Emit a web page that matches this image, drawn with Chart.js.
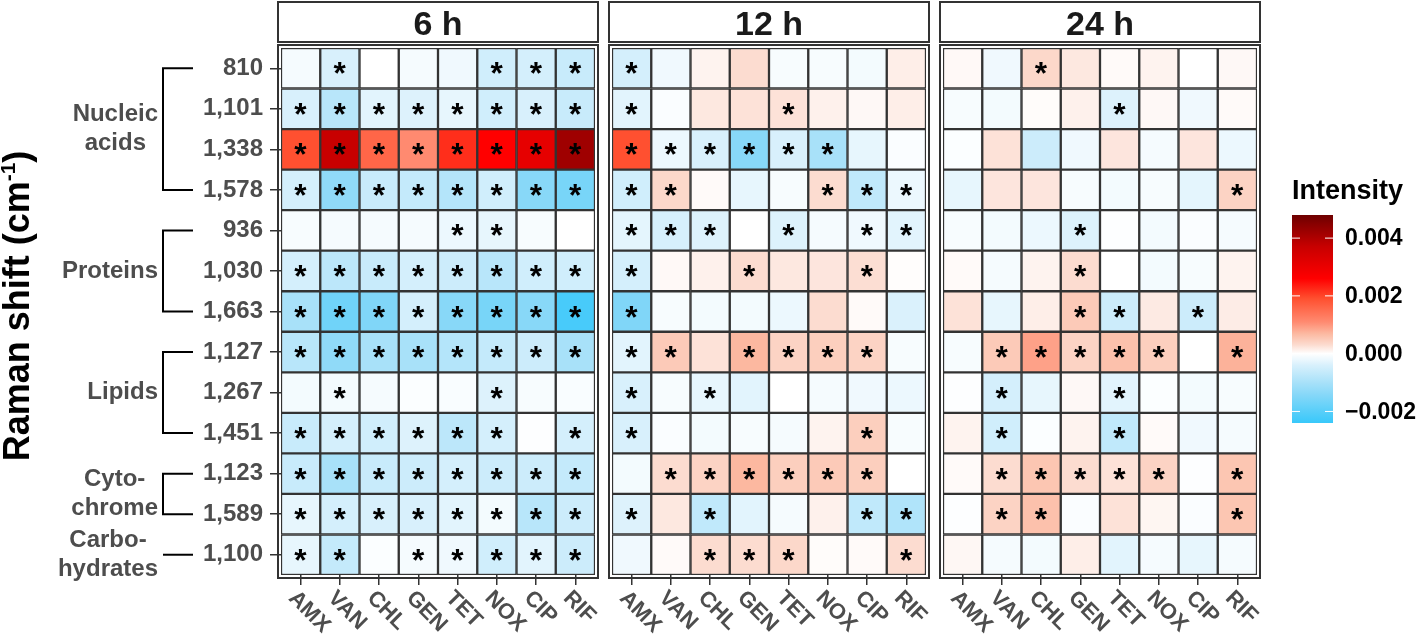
<!DOCTYPE html>
<html><head><meta charset="utf-8">
<script src="https://cdn.jsdelivr.net/npm/chart.js@4.4.1/dist/chart.umd.min.js"></script>
<style>
html,body{margin:0;padding:0;background:#fff;width:1417px;height:636px;overflow:hidden}
#wrap{position:absolute;left:0;top:0;width:1417px;height:636px}
canvas{position:absolute;left:0;top:0}
</style></head><body>
<div id="wrap">
<canvas id="c1" width="1417" height="636"></canvas>
<canvas id="c2" width="1417" height="636"></canvas>
<canvas id="c3" width="1417" height="636"></canvas>
</div>
<script>
// ---------------- DATA ----------------
const ramanShifts = ['810','1,101','1,338','1,578','936','1,030','1,663','1,127','1,267','1,451','1,123','1,589','1,100'];
const antibiotics = ['AMX','VAN','CHL','GEN','TET','NOX','CIP','RIF'];
const timePoints = ['6 h','12 h','24 h'];
const bandGroups = [
  {lines:['Nucleic','acids'], from:0, to:3},
  {lines:['Proteins'], from:4, to:6},
  {lines:['Lipids'], from:7, to:9},
  {lines:['Cyto-','chrome'], from:10, to:11},
  {lines:['Carbo-','hydrates'], from:12, to:12}
];
const legendTicks = [0.004, 0.002, 0.000, -0.002];
const legendTickLabels = ['0.004', '0.002', '0.000', '\u22120.002'];

const intensity6h = [
  [-0.0001, -0.0004, 0.0000, -0.0001, -0.00015, -0.0005, -0.00045, -0.0006],
  [-0.0004, -0.0008, -0.0003, -0.00035, -0.00025, -0.0005, -0.0004, -0.0006],
  [0.0019, 0.0037, 0.0016, 0.0011, 0.0022, 0.0026, 0.0031, 0.0042],
  [-0.00045, -0.0013, -0.0006, -0.00065, -0.00085, -0.0005, -0.0014, -0.0016],
  [-0.00008, -0.0001, -0.0001, -0.0001, -0.0002, -0.00025, -0.00008, 0.0000],
  [-0.00045, -0.00075, -0.0006, -0.00045, -0.00055, -0.0008, -0.0005, -0.0005],
  [-0.001, -0.0017, -0.0015, -0.00045, -0.0014, -0.0016, -0.0014, -0.0022],
  [-0.0008, -0.0013, -0.001, -0.001, -0.00085, -0.00065, -0.00055, -0.001],
  [-0.00012, -0.00012, -0.0001, -0.00004, -0.00006, -0.00035, -0.00008, -0.00006],
  [-0.0006, -0.00045, -0.0005, -0.00035, -0.00075, -0.00045, -0.00002, -0.00045],
  [-0.0006, -0.001, -0.0006, -0.00055, -0.00045, -0.00055, -0.00055, -0.00065],
  [-0.00025, -0.00045, -0.0004, -0.0004, -0.0003, -0.00012, -0.0008, -0.00055],
  [-0.00025, -0.00065, -0.00004, -0.0001, -0.00015, -0.0005, -0.0003, -0.00055]
];
const intensity12h = [
  [-0.00045, -0.00015, 0.0001, 0.0003, -0.00008, -0.00008, -0.00012, 0.00015],
  [-0.0003, -0.00005, 0.0002, 0.00025, 0.00025, 0.00012, 0.00006, 0.00015],
  [0.0019, -0.0002, -0.0004, -0.0014, -0.0004, -0.001, -0.00025, -0.00005],
  [-0.0005, 0.00035, 0.00004, -0.00025, -0.00008, 0.0003, -0.0007, -0.0002],
  [-0.00028, -0.00042, -0.00035, 0.0000, -0.00035, -0.0001, -0.00015, -0.0003],
  [-0.00045, 0.00005, 0.00012, 0.0003, 0.0002, 0.00022, 0.00028, 0.00002],
  [-0.0015, -0.00008, -0.00012, -0.00012, -0.0002, 0.0003, 0.00004, -0.00038],
  [-0.0003, 0.0005, 0.00025, 0.0007, 0.0004, 0.00045, 0.0004, -0.00008],
  [-0.0004, -0.00008, -0.00025, -0.0003, 0.0000, -0.0001, -0.00015, -0.0002],
  [-0.0004, -0.00005, -0.00012, -0.00008, -0.0001, 0.0001, 0.00045, -0.00008],
  [-0.00012, 0.0003, 0.0004, 0.0007, 0.00045, 0.0005, 0.00045, 0.0000],
  [-0.00035, 0.0002, -0.0007, -0.0003, -0.0001, 0.00012, -0.0007, -0.0009],
  [-0.00015, 0.00004, 0.0003, 0.0003, 0.00035, 0.00003, 0.00004, 0.0003]
];
const intensity24h = [
  [0.00005, -0.00015, 0.00035, 0.0002, 0.00004, 0.0001, 0.0000, 0.00006],
  [-0.00008, -0.00012, 0.00003, 0.00012, -0.00035, 0.00006, -0.00015, 0.00004],
  [-0.00004, 0.00025, -0.00055, -0.00015, 0.00022, -0.0001, 0.00022, -0.0002],
  [-0.00025, 0.00022, 0.00022, -0.00008, -0.00012, -0.00008, -0.00028, 0.0004],
  [-0.00008, -0.00012, -0.0002, -0.00035, -0.00002, -0.00012, -0.00005, -0.0001],
  [0.00004, -0.0001, 0.0001, 0.0003, 0.0000, -0.00012, -0.00008, 0.0001],
  [0.00025, -0.00025, 0.00015, 0.0005, -0.00055, 0.00018, -0.00055, 0.00016],
  [-0.00008, 0.0005, 0.0009, 0.0004, 0.0006, 0.00045, 0.0000, 0.00075],
  [-0.00002, -0.00045, -0.00025, 0.00006, -0.0003, -0.00004, -0.00012, -0.00008],
  [0.0001, -0.0005, -0.00004, 0.0001, -0.0007, 0.00004, -0.00015, -0.0001],
  [0.00004, 0.0003, 0.00055, 0.0003, 0.00025, 0.0004, -0.00002, 0.00055],
  [-0.00002, 0.0004, 0.0006, -0.00005, 0.00025, 0.00008, -0.00005, 0.00055],
  [0.00007, -0.0001, -0.00012, 0.00015, -0.0003, -0.0001, -0.00025, -0.0001]
];
// significance flags ("1" = asterisk), one string per Raman band, columns = antibiotics
const signif6h = ['01000111','11111111','11111111','11111111','00001100','11111111','11111111','11111111','01000100','11111101','11111111','11111111','11011111'];
const signif12h = ['10000000','10001000','11111100','11000111','11101011','10010010','10000000','11011110','10100000','10000010','01111110','10100011','00111001'];
const signif24h = ['00100000','00001000','00000000','00000001','00010000','00010000','00011010','01111101','01001000','01001000','01111101','01100001','00000000'];

// ---------------- STYLE ----------------
const FONT = '"Liberation Sans", Arial, Helvetica, sans-serif';
const colorStops = [
  [-0.0024, [56,200,250]],
  [-0.0014, [136,216,248]],
  [-0.0008, [184,230,250]],
  [-0.0004, [216,240,252]],
  [0.0000, [255,255,255]],
  [0.0003, [252,220,208]],
  [0.0007, [252,184,160]],
  [0.0011, [255,138,112]],
  [0.0019, [255,80,48]],
  [0.0026, [255,0,0]],
  [0.0037, [200,0,0]],
  [0.0048, [110,0,0]]
];
const scaleMin = -0.0024, scaleMax = 0.0048;
function cellColor(v){
  const s = colorStops;
  if (v <= s[0][0]) return 'rgb(' + s[0][1].join(',') + ')';
  for (let i = 1; i < s.length; i++){
    if (v <= s[i][0]){
      const t = (v - s[i-1][0]) / (s[i][0] - s[i-1][0]);
      const c = s[i-1][1].map((a, k) => Math.round(a + (s[i][1][k] - a) * t));
      return 'rgb(' + c.join(',') + ')';
    }
  }
  return 'rgb(' + s[s.length-1][1].join(',') + ')';
}

const panelLeft = [281, 612, 943];
const panelRight = [595, 926, 1257];

const decor = {
  id: 'decor',
  afterDatasetsDraw(chart){
    const ctx = chart.ctx;
    ctx.save();
    ctx.font = 'bold 100px ' + FONT;
    let m = ctx.measureText('*');
    const size = 100 * 12 / (m.actualBoundingBoxAscent + m.actualBoundingBoxDescent);
    ctx.font = 'bold ' + size.toFixed(1) + 'px ' + FONT;
    m = ctx.measureText('*');
    const dy = (m.actualBoundingBoxAscent - m.actualBoundingBoxDescent) / 2;
    const dx = (m.actualBoundingBoxRight - m.actualBoundingBoxLeft) / 2;
    ctx.fillStyle = '#000';
    ctx.textAlign = 'left';
    ctx.textBaseline = 'alphabetic';
    chart.data.datasets.forEach((ds, r) => {
      const meta = chart.getDatasetMeta(r);
      meta.data.forEach((bar, c) => {
        if (ds.signif[c] === '1'){
          const cy = (bar.y + bar.base) / 2;
          ctx.fillText('*', bar.x - dx, cy + dy);
        }
      });
    });
    ctx.restore();
  },
  afterDraw(chart, args, opts){
    const ctx = chart.ctx;
    const a = chart.chartArea;
    const p = opts.panel;
    ctx.save();
    // panel frame
    ctx.strokeStyle = '#333';
    ctx.lineWidth = 2;
    ctx.strokeRect(a.left - 3, a.top - 3, a.width + 6, a.height + 6);
    // strip
    ctx.fillStyle = '#fff';
    ctx.fillRect(a.left - 3, 2, a.width + 6, 40);
    ctx.strokeRect(a.left - 3, 2, a.width + 6, 40);
    ctx.fillStyle = '#1a1a1a';
    ctx.font = 'bold 34px ' + FONT;
    ctx.textAlign = 'center';
    ctx.textBaseline = 'alphabetic';
    ctx.fillText(timePoints[p], (a.left + a.right) / 2, 35);
    // rotated x labels
    const xs = chart.scales.x;
    ctx.fillStyle = '#4d4d4d';
    ctx.font = 'bold 22px ' + FONT;
    ctx.textAlign = 'left';
    xs.ticks.forEach((t, i) => {
      const x = xs.getPixelForTick(i);
      ctx.save();
      ctx.translate(x - 13, a.bottom + 24);
      ctx.rotate(Math.PI / 4);
      ctx.fillText(xs.getLabelForValue(t.value), 0, 0);
      ctx.restore();
    });
    if (p === 0){
      const ys = chart.scales.y;
      // group brackets
      ctx.strokeStyle = '#000';
      ctx.lineWidth = 2;
      ctx.fillStyle = '#4d4d4d';
      ctx.font = 'bold 24px ' + FONT;
      ctx.textAlign = 'center';
      ctx.textBaseline = 'middle';
      bandGroups.forEach(g => {
        const y1 = ys.getPixelForValue(g.from), y2 = ys.getPixelForValue(g.to);
        ctx.beginPath();
        if (g.from === g.to){
          ctx.moveTo(163, y1); ctx.lineTo(193, y1);
        } else {
          ctx.moveTo(193, y1); ctx.lineTo(163, y1); ctx.lineTo(163, y2); ctx.lineTo(193, y2);
        }
        ctx.stroke();
        const maxW = Math.max(...g.lines.map(l => ctx.measureText(l).width));
        const cx = 158 - maxW / 2;
        const cy = (y1 + y2) / 2;
        const n = g.lines.length;
        g.lines.forEach((l, k) => ctx.fillText(l, cx, cy + (k - (n - 1) / 2) * 29));
      });
      // y axis title with superscript
      ctx.save();
      ctx.translate(29, 306);
      ctx.rotate(-Math.PI / 2);
      ctx.fillStyle = '#000';
      ctx.textAlign = 'left';
      ctx.textBaseline = 'alphabetic';
      const big = 'bold 36px ' + FONT, small = 'bold 21px ' + FONT;
      const t1 = 'Raman shift (cm', t2 = '-1', t3 = ')';
      ctx.font = big; const w1 = ctx.measureText(t1).width, w3 = ctx.measureText(t3).width;
      ctx.font = small; const w2 = ctx.measureText(t2).width;
      let x0 = -(w1 + w2 + w3) / 2;
      ctx.font = big; ctx.fillText(t1, x0, 0);
      ctx.font = small; ctx.fillText(t2, x0 + w1, -14);
      ctx.font = big; ctx.fillText(t3, x0 + w1 + w2, 0);
      ctx.restore();
    }
    if (p === 2){
      // colour legend
      const bx = 1292, bw = 41, by = 215, bh = 208;
      const g = ctx.createLinearGradient(0, by + bh, 0, by);
      for (let v = scaleMin; v <= scaleMax + 1e-9; v += 0.0001){
        g.addColorStop(Math.min(1, (v - scaleMin) / (scaleMax - scaleMin)), cellColor(v));
      }
      ctx.fillStyle = g;
      ctx.fillRect(bx, by, bw, bh);
      ctx.fillStyle = '#000';
      ctx.font = 'bold 27px ' + FONT;
      ctx.textAlign = 'left';
      ctx.textBaseline = 'alphabetic';
      ctx.fillText('Intensity', bx, 199);
      ctx.font = 'bold 23px ' + FONT;
      ctx.textBaseline = 'middle';
      ctx.strokeStyle = '#fff';
      ctx.lineWidth = 1;
      legendTicks.forEach((v, i) => {
        const y = by + bh - (v - scaleMin) / (scaleMax - scaleMin) * bh;
        ctx.beginPath();
        ctx.moveTo(bx, y); ctx.lineTo(bx + 8, y);
        ctx.moveTo(bx + bw - 8, y); ctx.lineTo(bx + bw, y);
        ctx.stroke();
        ctx.fillText(legendTickLabels[i], 1345, y + 1);
      });
    }
    ctx.restore();
  }
};

function buildPanel(id, p, values, signif){
  const first = p === 0;
  const datasets = ramanShifts.map((lab, r) => ({
    label: lab,
    data: antibiotics.map(() => [r - 0.5, r + 0.5]),
    backgroundColor: values[r].map(cellColor),
    signif: signif[r],
    borderColor: '#333333',
    borderWidth: 1.5,
    borderSkipped: false,
    grouped: false,
    barPercentage: 1,
    categoryPercentage: 1
  }));
  return new Chart(document.getElementById(id), {
    type: 'bar',
    data: { labels: antibiotics, datasets },
    plugins: [decor],
    options: {
      responsive: false,
      animation: false,
      events: [],
      devicePixelRatio: 1,
      layout: { padding: { left: first ? 0 : panelLeft[p], right: 1417 - panelRight[p], top: 48, bottom: 0 } },
      plugins: { legend: { display: false }, tooltip: { enabled: false }, decor: { panel: p } },
      scales: {
        x: {
          type: 'category', offset: true,
          grid: { offset: false, drawOnChartArea: false, drawTicks: true, tickLength: 10, color: '#333', lineWidth: 1.5 },
          border: { display: false },
          ticks: { display: false },
          afterFit(s){ s.height = 61; }
        },
        y: {
          type: 'linear', min: -0.5, max: 12.5, reverse: true, display: first,
          afterBuildTicks(s){ s.ticks = ramanShifts.map((_, i) => ({ value: i })); },
          ticks: { autoSkip: false, callback: (v) => ramanShifts[v], color: '#4d4d4d', padding: 7,
                   font: { family: FONT, size: 24, weight: 'bold' } },
          grid: { drawOnChartArea: false, tickLength: 11, color: '#333', lineWidth: 1.5 },
          border: { display: false },
          afterFit(s){ s.width = first ? 281 : 0; }
        }
      }
    }
  });
}
buildPanel('c1', 0, intensity6h, signif6h);
buildPanel('c2', 1, intensity12h, signif12h);
buildPanel('c3', 2, intensity24h, signif24h);
</script>
</body></html>
